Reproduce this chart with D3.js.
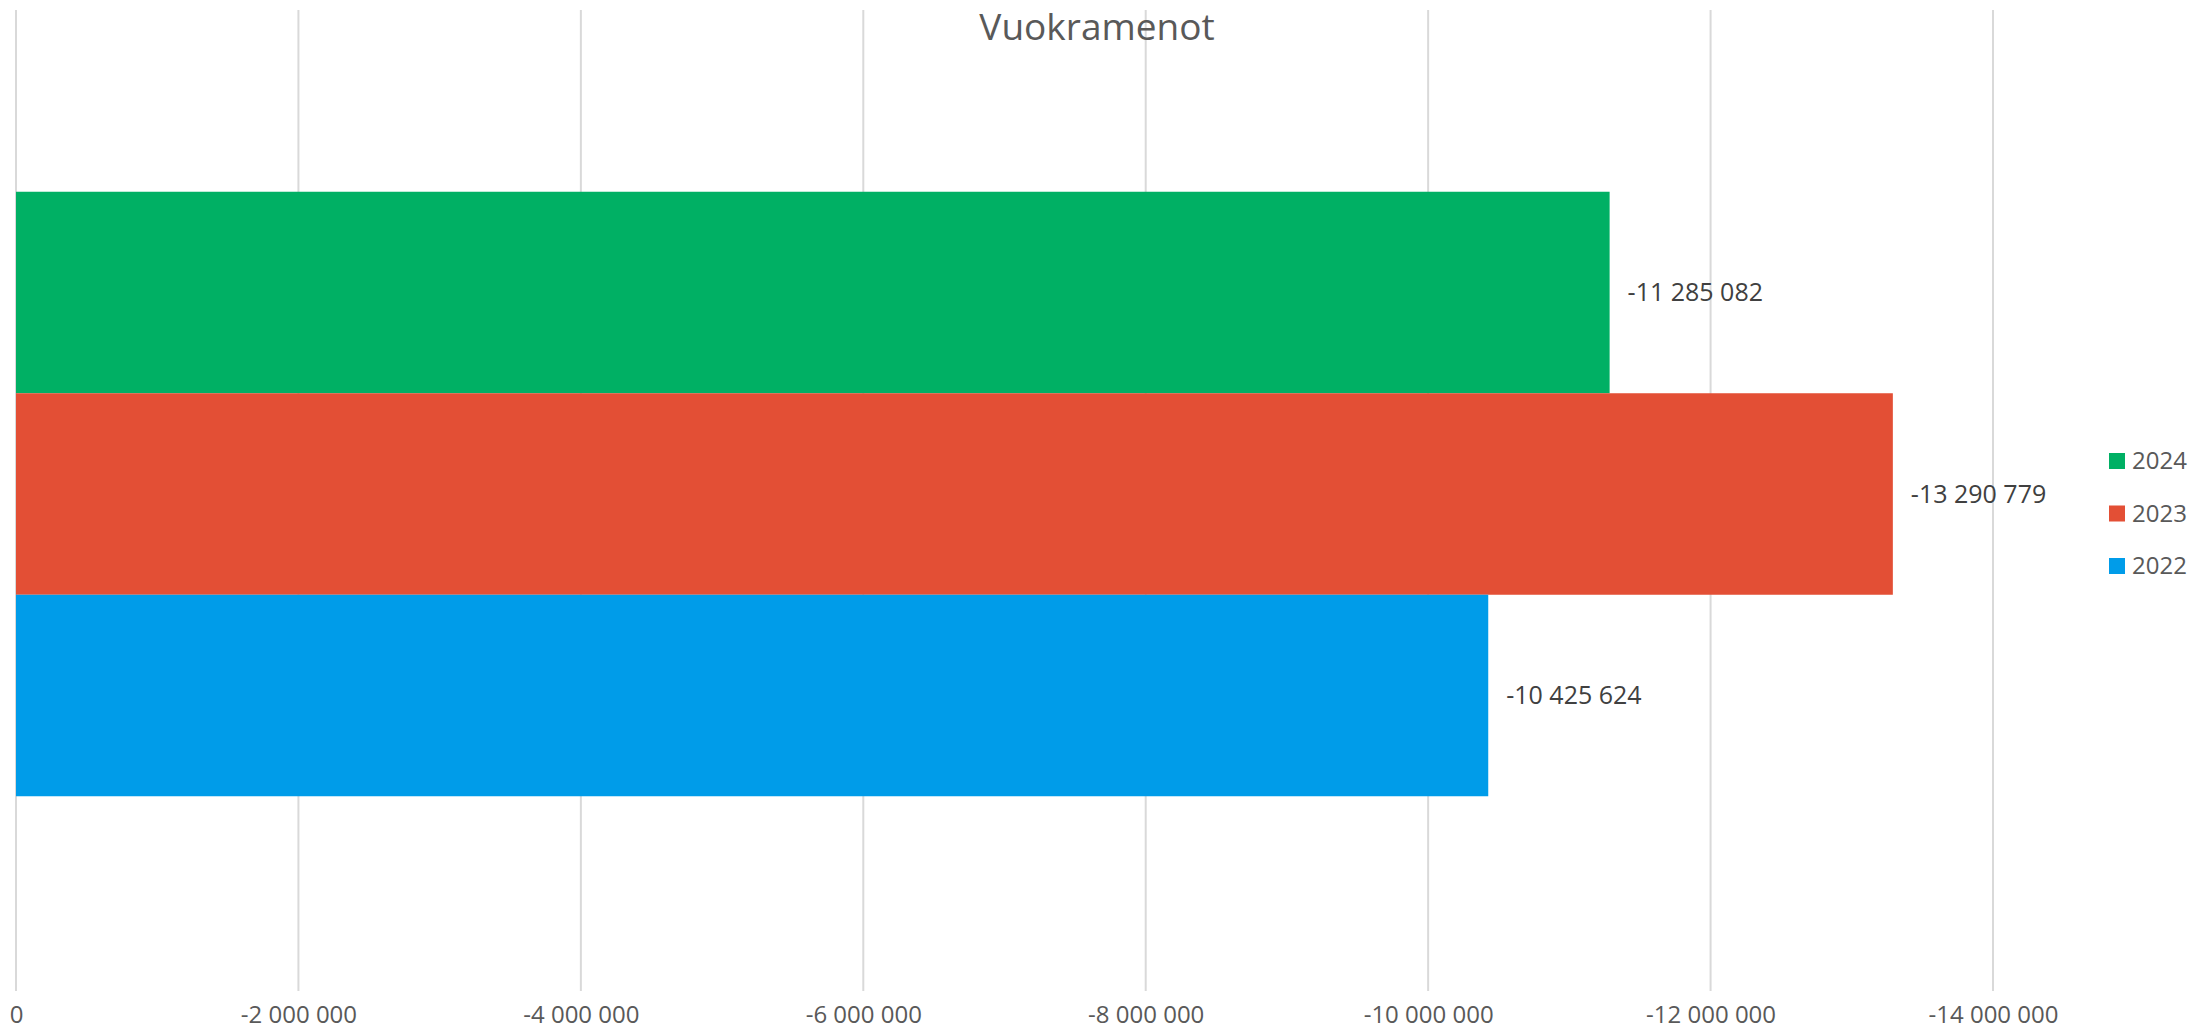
<!DOCTYPE html>
<html>
<head>
<meta charset="utf-8">
<script src="https://cdn.jsdelivr.net/npm/d3@7"></script>
<style>
  html, body { margin: 0; padding: 0; background: #fff; }
  svg { display: block; font-family: "Open Sans", sans-serif; }
</style>
</head>
<body>
<svg id="chart" width="2193" height="1029"></svg>
<script>
// chart data
const title = 'Vuokramenot';
const years = ['2024', '2023', '2022'];
const values = [-11285082, -13290779, -10425624];
const colors = ['#00B064', '#E34F35', '#009CE9'];
const tickValues = [0, -2000000, -4000000, -6000000, -8000000, -10000000, -12000000, -14000000];

const width = 2193, height = 1029;
const svg = d3.select('#chart');

// Finnish style: space as thousands separator, plain hyphen for minus
const fmt = v => d3.format(',')(v).replace(/,/g, ' ').replace('\u2212', '-');

const x = d3.scaleLinear().domain([0, -14000000]).range([16, 1993]);
const y = d3.scaleBand().domain(years).range([10, 978]).paddingInner(0).paddingOuter(0.902);

// gridlines
svg.append('g')
  .selectAll('line')
  .data(tickValues)
  .enter().append('line')
  .attr('x1', d => x(d)).attr('x2', d => x(d))
  .attr('y1', 10).attr('y2', 991)
  .attr('stroke', '#d9d9d9')
  .attr('stroke-width', 2);

// axis labels
const axis = d3.axisBottom(x).tickValues(tickValues).tickFormat(fmt).tickSize(0).tickPadding(0);
const axisG = svg.append('g')
  .attr('transform', 'translate(0,1006)')
  .call(axis);
axisG.select('.domain').remove();
axisG.selectAll('text')
  .attr('fill', '#595959')
  .style('font-size', '24px')
  .style('font-family', '"Open Sans", sans-serif');

// bars
svg.append('g')
  .selectAll('rect')
  .data(years)
  .enter().append('rect')
  .attr('x', (d, i) => x(0))
  .attr('y', d => y(d))
  .attr('width', (d, i) => x(values[i]) - x(0))
  .attr('height', y.bandwidth())
  .attr('fill', (d, i) => colors[i]);

// value labels
svg.append('g')
  .selectAll('text')
  .data(years)
  .enter().append('text')
  .attr('x', (d, i) => x(values[i]) + 18)
  .attr('y', d => y(d) + y.bandwidth() / 2)
  .attr('dy', '0.35em')
  .attr('fill', '#404040')
  .style('font-size', '25px')
  .text((d, i) => fmt(values[i]));

// title
svg.append('text')
  .attr('x', 1097)
  .attr('y', 40)
  .attr('text-anchor', 'middle')
  .attr('fill', '#595959')
  .style('font-size', '37px')
  .text(title);

// legend
const legend = svg.append('g')
  .selectAll('g')
  .data(years)
  .enter().append('g')
  .attr('transform', (d, i) => `translate(2109,${461 + i * 52.5})`);

legend.append('rect')
  .attr('x', 0).attr('y', -8)
  .attr('width', 16).attr('height', 16)
  .attr('fill', (d, i) => colors[i]);

legend.append('text')
  .attr('x', 23)
  .attr('y', 0)
  .attr('dy', '0.35em')
  .attr('fill', '#595959')
  .style('font-size', '24px')
  .text(d => d);
</script>
</body>
</html>
